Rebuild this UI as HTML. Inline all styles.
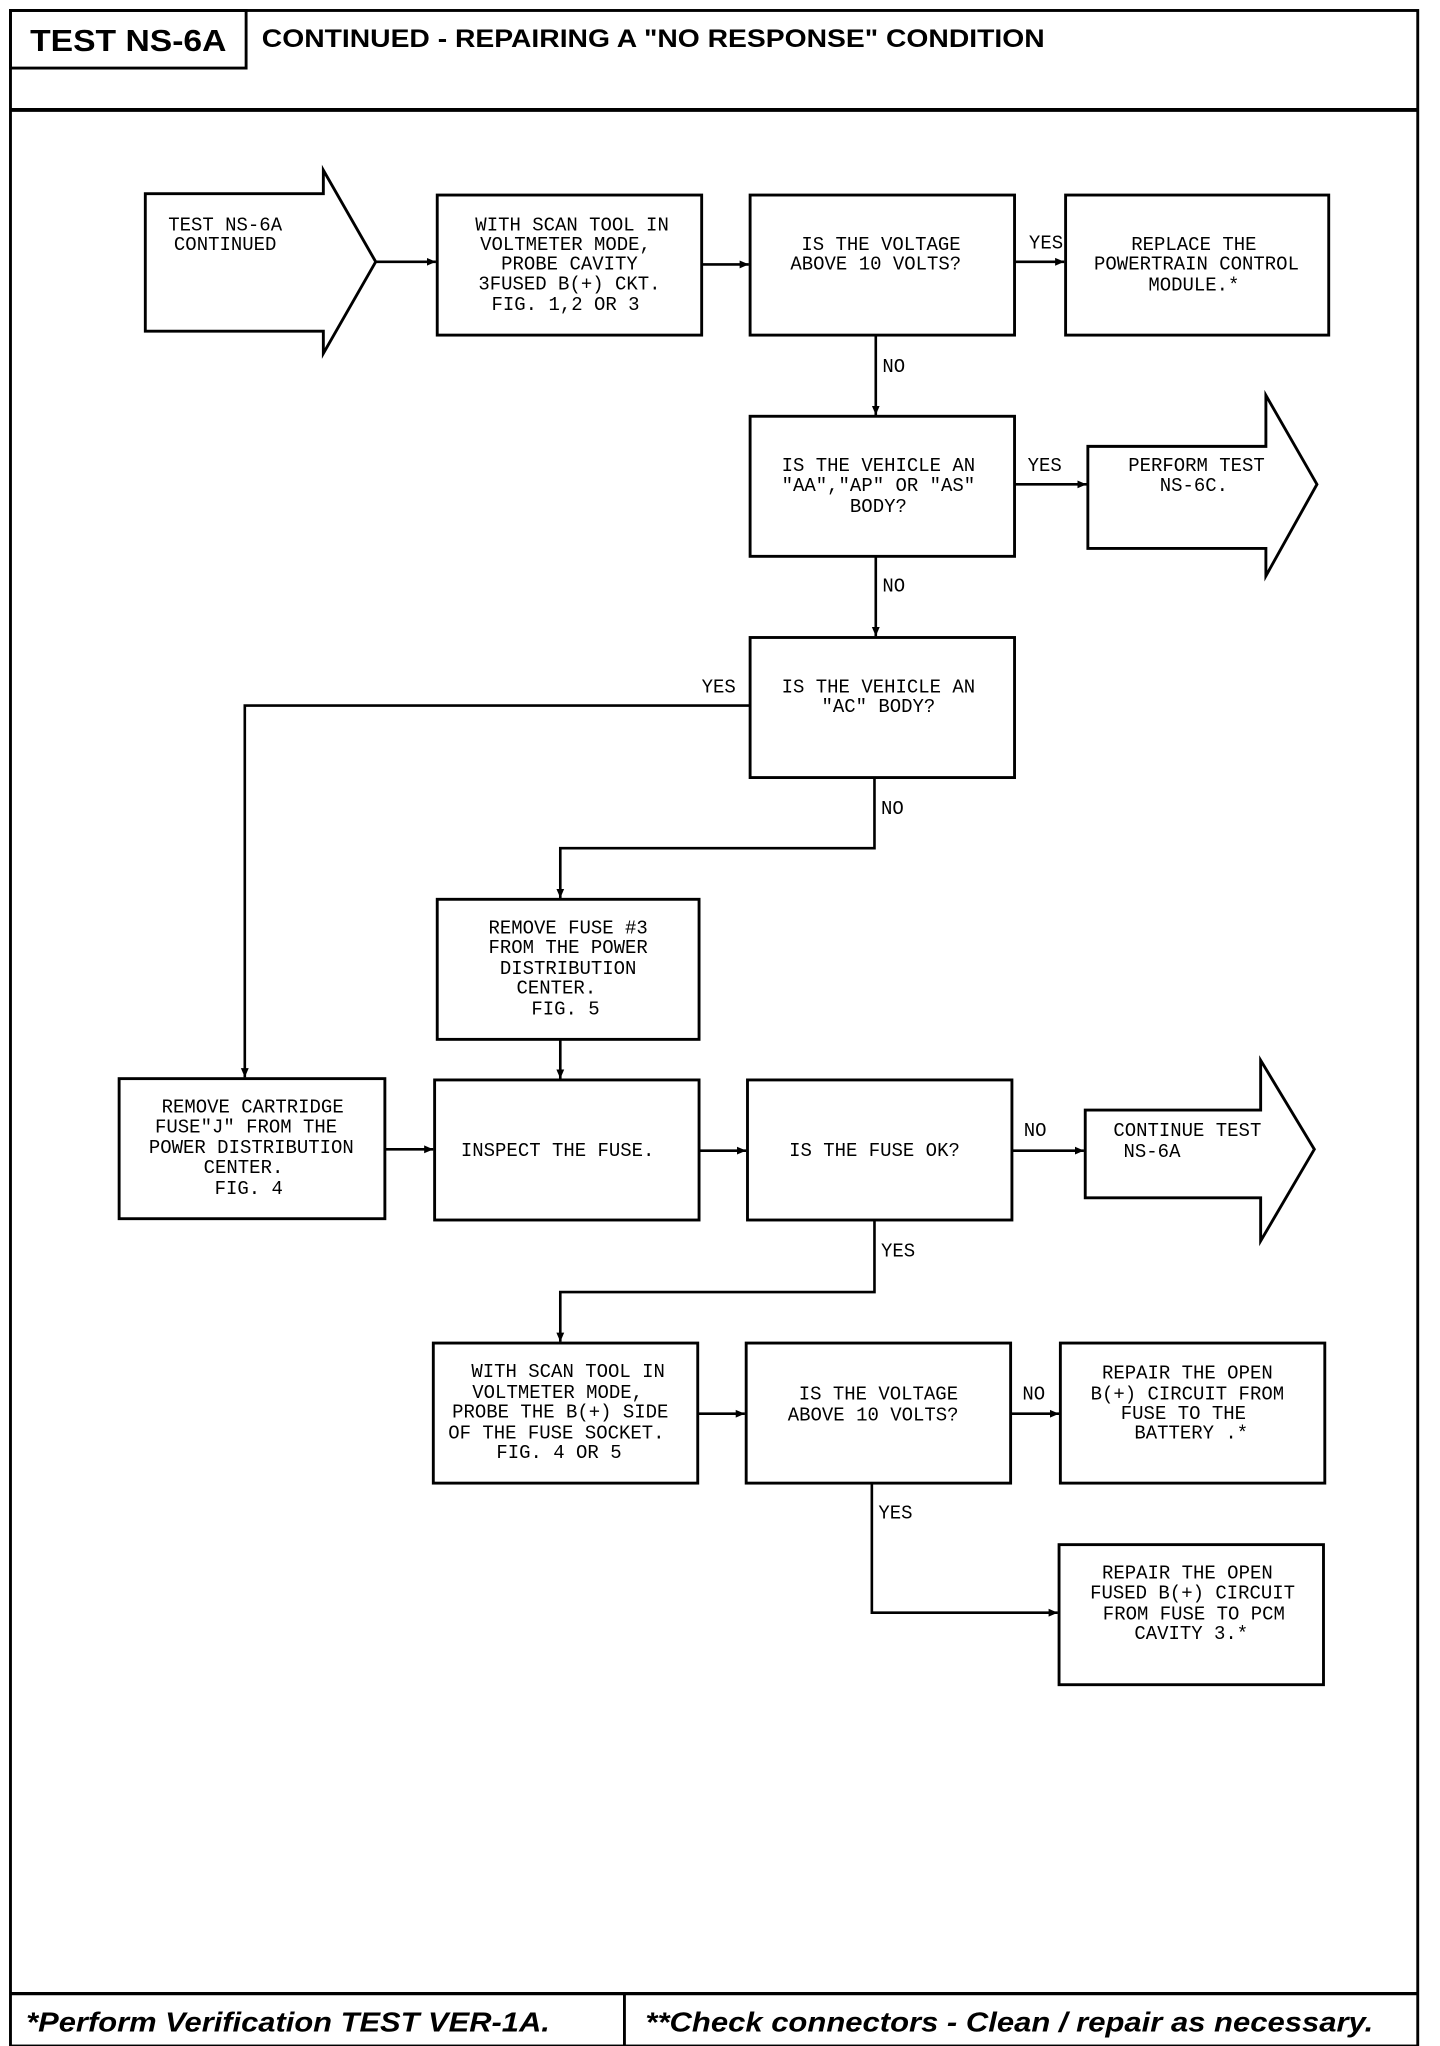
<!DOCTYPE html>
<html><head><meta charset="utf-8"><style>
html,body{margin:0;padding:0;background:#fff;}
svg{display:block;}
.t{font-family:"Liberation Mono",monospace;font-size:14.5px;fill:#000;text-anchor:middle;}
.l{font-family:"Liberation Mono",monospace;font-size:14.5px;fill:#000;}
</style></head><body>
<svg width="1440" height="2046" viewBox="0 0 1100 1563" preserveAspectRatio="none" xmlns="http://www.w3.org/2000/svg">
<defs><marker id="a" markerWidth="8" markerHeight="8" refX="7" refY="4" orient="auto" markerUnits="userSpaceOnUse"><path d="M0,1 L7,4 L0,7 Z" fill="#000"/></marker></defs>
<g fill="none" stroke="#000" stroke-width="2.2">
<rect x="8" y="8" width="1075" height="1555"/>
<line x1="8" y1="84" x2="1083" y2="84" stroke-width="3"/>
<rect x="8" y="8" width="180" height="44"/>
<line x1="8" y1="1523" x2="1083" y2="1523" stroke-width="2.5"/>
<line x1="477" y1="1523" x2="477" y2="1563"/>
<!-- start arrow -->
<path d="M111,148 H247 V130 L287,200 L247,270 V253 H111 Z"/>
<rect x="334" y="149" width="202" height="107"/>
<rect x="573" y="149" width="202" height="107"/>
<rect x="814" y="149" width="201" height="107"/>
<rect x="573" y="318" width="202" height="107"/>
<path d="M831,341 H967 V302 L1006,370 L967,440 V419 H831 Z"/>
<rect x="573" y="487" width="202" height="107"/>
<rect x="334" y="687" width="200" height="107"/>
<rect x="91" y="824" width="203" height="107"/>
<rect x="332" y="825" width="202" height="107"/>
<rect x="571" y="825" width="202" height="107"/>
<path d="M829,848 H963 V810 L1004,878 L963,948 V915 H829 Z"/>
<rect x="331" y="1026" width="202" height="107"/>
<rect x="570" y="1026" width="202" height="107"/>
<rect x="810" y="1026" width="202" height="107"/>
<rect x="809" y="1180" width="202" height="107"/>
</g>
<g fill="none" stroke="#000" stroke-width="2" marker-end="url(#a)">
<line x1="287" y1="200" x2="333" y2="200"/>
<line x1="536" y1="202" x2="572" y2="202"/>
<line x1="775" y1="200" x2="813" y2="200"/>
<line x1="669" y1="256" x2="669" y2="317"/>
<line x1="775" y1="370" x2="830" y2="370"/>
<line x1="669" y1="425" x2="669" y2="486"/>
<polyline points="573,539 187,539 187,823"/>
<polyline points="668,594 668,648 428,648 428,686"/>
<line x1="428" y1="794" x2="428" y2="824"/>
<line x1="294" y1="878" x2="331" y2="878"/>
<line x1="534" y1="879" x2="570" y2="879"/>
<line x1="773" y1="879" x2="828" y2="879"/>
<polyline points="668,932 668,987 428,987 428,1025"/>
<line x1="533" y1="1080" x2="569" y2="1080"/>
<line x1="772" y1="1080" x2="809" y2="1080"/>
<polyline points="666,1133 666,1232 808,1232"/>
</g>
<text x="98" y="39" style="font-family:'Liberation Sans',sans-serif;font-weight:bold;font-size:23px;text-anchor:middle" textLength="150" lengthAdjust="spacingAndGlyphs">TEST NS-6A</text>
<text x="200" y="36" style="font-family:'Liberation Sans',sans-serif;font-weight:bold;font-size:19px" textLength="598" lengthAdjust="spacingAndGlyphs">CONTINUED - REPAIRING A "NO RESPONSE" CONDITION</text>
<text x="20" y="1552" style="font-family:'Liberation Sans',sans-serif;font-weight:bold;font-style:italic;font-size:21px" textLength="400" lengthAdjust="spacingAndGlyphs">*Perform Verification TEST VER-1A.</text>
<text x="493" y="1552" style="font-family:'Liberation Sans',sans-serif;font-weight:bold;font-style:italic;font-size:21px" textLength="556" lengthAdjust="spacingAndGlyphs">**Check connectors - Clean / repair as necessary.</text>

<text class="t"><tspan x="172" y="176">TEST NS-6A</tspan><tspan x="172" y="191">CONTINUED</tspan></text>
<text class="t"><tspan x="437" y="176">WITH SCAN TOOL IN</tspan><tspan x="432" y="191">VOLTMETER MODE,</tspan><tspan x="435" y="206">PROBE CAVITY</tspan><tspan x="435" y="221">3FUSED B(+) CKT.</tspan><tspan x="432" y="237">FIG. 1,2 OR 3</tspan></text>
<text class="t"><tspan x="673" y="191">IS THE VOLTAGE</tspan><tspan x="669" y="206">ABOVE 10 VOLTS?</tspan></text>
<text class="t"><tspan x="912" y="191">REPLACE THE</tspan><tspan x="914" y="206">POWERTRAIN CONTROL</tspan><tspan x="912" y="222">MODULE.*</tspan></text>
<text class="t"><tspan x="671" y="360">IS THE VEHICLE AN</tspan><tspan x="671" y="375">"AA","AP" OR "AS"</tspan><tspan x="671" y="391">BODY?</tspan></text>
<text class="t"><tspan x="914" y="360">PERFORM TEST</tspan><tspan x="912" y="375">NS-6C.</tspan></text>
<text class="t"><tspan x="671" y="529">IS THE VEHICLE AN</tspan><tspan x="671" y="544">"AC" BODY?</tspan></text>
<text class="t"><tspan x="434" y="713">REMOVE FUSE #3</tspan><tspan x="434" y="728">FROM THE POWER</tspan><tspan x="434" y="744">DISTRIBUTION</tspan><tspan x="425" y="759">CENTER.</tspan><tspan x="432" y="775">FIG. 5</tspan></text>
<text class="t"><tspan x="193" y="850">REMOVE CARTRIDGE</tspan><tspan x="188" y="865">FUSE"J" FROM THE</tspan><tspan x="192" y="881">POWER DISTRIBUTION</tspan><tspan x="186" y="896">CENTER.</tspan><tspan x="190" y="912">FIG. 4</tspan></text>
<text class="t"><tspan x="426" y="883">INSPECT THE FUSE.</tspan></text>
<text class="t"><tspan x="668" y="883">IS THE FUSE OK?</tspan></text>
<text class="t"><tspan x="907" y="868">CONTINUE TEST</tspan><tspan x="880" y="884">NS-6A</tspan></text>
<text class="t"><tspan x="434" y="1052">WITH SCAN TOOL IN</tspan><tspan x="426" y="1068">VOLTMETER MODE,</tspan><tspan x="428" y="1083">PROBE THE B(+) SIDE</tspan><tspan x="425" y="1099">OF THE FUSE SOCKET.</tspan><tspan x="427" y="1114">FIG. 4 OR 5</tspan></text>
<text class="t"><tspan x="671" y="1069">IS THE VOLTAGE</tspan><tspan x="667" y="1085">ABOVE 10 VOLTS?</tspan></text>
<text class="t"><tspan x="907" y="1053">REPAIR THE OPEN</tspan><tspan x="907" y="1069">B(+) CIRCUIT FROM</tspan><tspan x="904" y="1084">FUSE TO THE</tspan><tspan x="910" y="1099">BATTERY .*</tspan></text>
<text class="t"><tspan x="907" y="1206">REPAIR THE OPEN</tspan><tspan x="911" y="1221">FUSED B(+) CIRCUIT</tspan><tspan x="912" y="1237">FROM FUSE TO PCM</tspan><tspan x="910" y="1252">CAVITY 3.*</tspan></text>

<text class="l" x="786" y="190">YES</text>
<text class="l" x="674" y="284">NO</text>
<text class="l" x="785" y="360">YES</text>
<text class="l" x="674" y="452">NO</text>
<text class="l" x="536" y="529">YES</text>
<text class="l" x="673" y="622">NO</text>
<text class="l" x="782" y="868">NO</text>
<text class="l" x="673" y="960">YES</text>
<text class="l" x="781" y="1069">NO</text>
<text class="l" x="671" y="1160">YES</text>
</svg>
</body></html>
